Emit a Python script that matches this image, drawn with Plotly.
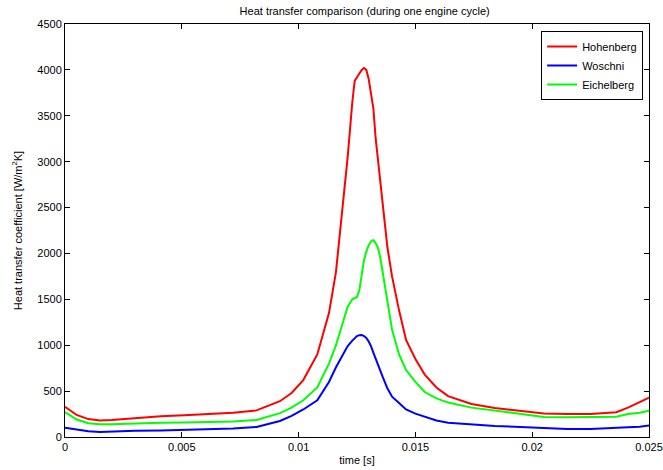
import plotly.graph_objects as go

time_s = [0, 0.0005, 0.001, 0.0015, 0.002, 0.003, 0.0041, 0.0051, 0.0061, 0.0072, 0.0082, 0.0092, 0.0097,
          0.0102, 0.0108, 0.0113, 0.0116, 0.0119, 0.0121, 0.0123, 0.0124, 0.0125, 0.0126, 0.0127, 0.0128,
          0.0129, 0.0130, 0.0131, 0.0132, 0.0133, 0.0134, 0.0135, 0.0136, 0.0138, 0.0140, 0.0143, 0.0146,
          0.0150, 0.0154, 0.0159, 0.0164, 0.0174, 0.0184, 0.0195, 0.0205, 0.0215, 0.0225, 0.0236, 0.0241,
          0.0246, 0.025]

hohenberg = [330, 240, 195, 180, 185, 205, 225, 238, 248, 265, 290, 390, 480,
             620, 900, 1350, 1800, 2550, 3050, 3650, 3880, 3920, 3960, 4000, 4020,
             4000, 3900, 3750, 3580, 3250, 3000, 2750, 2550, 2070, 1750, 1380, 1057,
             850, 680, 540, 445, 360, 315, 285, 255, 250, 250, 270, 320, 380,
             430]

woschni = [100, 80, 62, 55, 60, 68, 72, 76, 84, 92, 110, 175, 230,
           300, 400, 600, 760, 900, 990, 1050, 1080, 1100, 1110, 1112, 1100,
           1080, 1040, 990, 920, 850, 790, 720, 654, 530, 440, 371, 300,
           255, 218, 180, 155, 135, 120, 110, 100, 88, 87, 95, 105, 112,
           125]

eichelberg = [272, 190, 150, 140, 140, 150, 155, 157, 160, 168, 185, 260, 320,
              400, 540, 800, 1000, 1250, 1420, 1500, 1510, 1526, 1600, 1780, 1930,
              2020, 2090, 2130, 2145, 2110, 2060, 1950, 1790, 1450, 1170, 900, 730,
              600, 490, 420, 375, 320, 285, 245, 218, 215, 215, 220, 250, 265,
              287]

x_ticks = [0, 0.005, 0.01, 0.015, 0.02, 0.025]
x_tick_labels = ["0", "0.005", "0.01", "0.015", "0.02", "0.025"]

series = [("Hohenberg", hohenberg, "#ff0000"),
          ("Woschni", woschni, "#0000ff"),
          ("Eichelberg", eichelberg, "#00ff00")]

fig = go.Figure()
for name, vals, col in series:
    fig.add_trace(go.Scatter(x=time_s, y=vals, mode="lines", name=name,
                             line=dict(color=col, width=2)))

font = dict(family="Liberation Sans, Arial, sans-serif", size=11, color="black")
axis_common = dict(showline=True, linecolor="black", linewidth=1, mirror="ticks",
                   ticks="inside", ticklen=5, tickcolor="black", showgrid=False,
                   zeroline=False, tickfont=font, ticklabeloverflow="allow",
                   automargin=False)

fig.update_layout(
    width=663, height=470,
    margin=dict(l=65, r=14, t=24, b=33),
    paper_bgcolor="white", plot_bgcolor="white",
    font=font,
    title=dict(text="Heat transfer comparison (during one engine cycle)",
               x=0.55, xanchor="center", y=0.985, yanchor="top", font=font),
    xaxis=dict(range=[0, 0.025], tickvals=x_ticks, ticktext=x_tick_labels,
               title=dict(text="time [s]", font=font, standoff=4), **axis_common),
    yaxis=dict(range=[0, 4500], dtick=500,
               title=dict(text="Heat transfer coefficient [W/m<sup>2</sup>K]", font=font, standoff=12),
               **axis_common),
    legend=dict(x=0.99, y=0.983, xanchor="right", yanchor="top",
                bordercolor="black", borderwidth=1, bgcolor="white",
                font=font, tracegroupgap=0, itemwidth=30),
    showlegend=True,
)

fig.write_html("out.html")
